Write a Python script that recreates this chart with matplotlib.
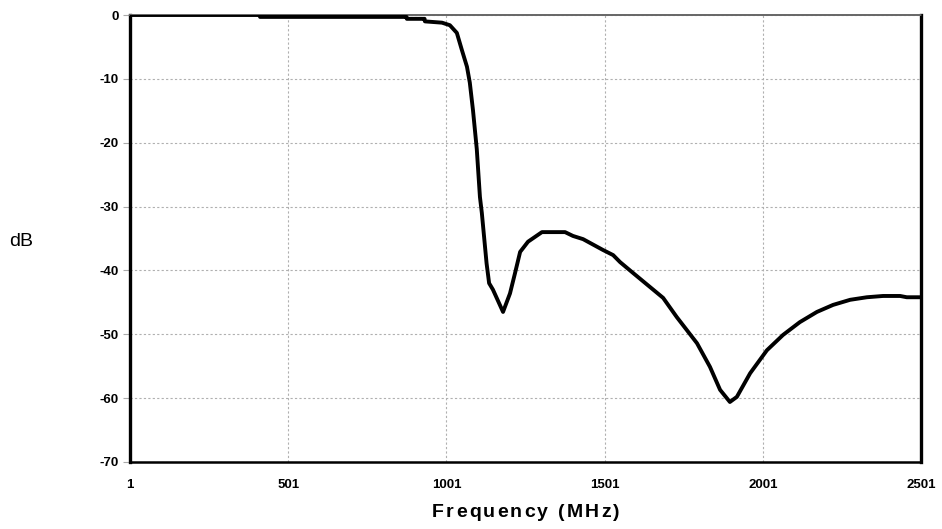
import matplotlib
matplotlib.use('Agg')
import matplotlib.pyplot as plt

# frequency sweep (MHz) and response (dB)
freq = [1, 411, 412, 875, 876, 932, 933, 987, 1012, 1034, 1050, 1066, 1075, 1085,
        1097, 1107, 1113, 1128, 1136, 1148, 1180, 1202, 1218, 1234, 1259, 1303,
        1376, 1401, 1433, 1496, 1528, 1550, 1591, 1686, 1729, 1793, 1834, 1866,
        1897, 1919, 1961, 2014, 2065, 2118, 2172, 2223, 2277, 2330, 2381, 2435,
        2456, 2501]
db = [0.0, 0.0, -0.3, -0.3, -0.6, -0.6, -1.0, -1.2, -1.6, -2.8, -5.5, -8.1, -10.6, -14.9,
      -21.0, -28.5, -31.0, -38.9, -42.0, -43.0, -46.5, -43.6, -40.4, -37.1, -35.5, -34.0,
      -34.0, -34.6, -35.1, -36.8, -37.6, -38.7, -40.4, -44.3, -47.3, -51.4, -55.1, -58.7,
      -60.6, -59.8, -56.1, -52.5, -50.1, -48.1, -46.5, -45.4, -44.6, -44.2, -44.0, -44.0,
      -44.2, -44.2]

xticks = [1, 501, 1001, 1501, 2001, 2501]
yticks = [0, -10, -20, -30, -40, -50, -60, -70]
xlabel = 'Frequency (MHz)'

plt.rcParams['font.family'] = ['Liberation Sans', 'DejaVu Sans']

W, H = 942, 529
fig = plt.figure(figsize=(W / 100, H / 100), dpi=100)
ax = fig.add_axes([130/W, 1 - 462/H, 791/W, 447/H])

ax.plot(freq, db, color='black', linewidth=2.8, solid_joinstyle='round', zorder=3)

ax.set_xlim(1, 2501)
ax.set_ylim(-70, 0)
ax.set_xticks(xticks)
ax.set_yticks(yticks)
ax.set_xticklabels([str(t) for t in xticks], fontsize=9.5, fontweight='bold')
ax.set_yticklabels([str(t) for t in yticks], fontsize=9.5, fontweight='bold')
ax.tick_params(axis='x', length=0, pad=12)
ax.tick_params(axis='y', length=5, color='#aaaaaa', pad=3)

ax.grid(True, color='#b0b0b0', linestyle=(0, (2, 2)), linewidth=0.8)

ax.spines['left'].set_linewidth(2.4)
ax.spines['right'].set_linewidth(2.4)
ax.spines['bottom'].set_linewidth(1.8)
ax.spines['top'].set_color('#666666')
ax.spines['top'].set_linewidth(1.4)
ax.spines['top'].set_linestyle((0, (1.5, 1)))

# axis title with letter spacing, laid out one character at a time
fig.canvas.draw()
renderer = fig.canvas.get_renderer()
x = 432
for ch in xlabel:
    t = fig.text(x / W, 1 - 517 / H, ch, fontsize=14, fontweight='bold',
                 ha='left', va='baseline')
    w = t.get_window_extent(renderer).width
    if ch == ' ':
        w = 5
    x += w + 2.2

fig.text(21/W, 1 - 241/H, 'dB', fontsize=14, ha='center', va='center')

fig.savefig('out.png', dpi=100)
